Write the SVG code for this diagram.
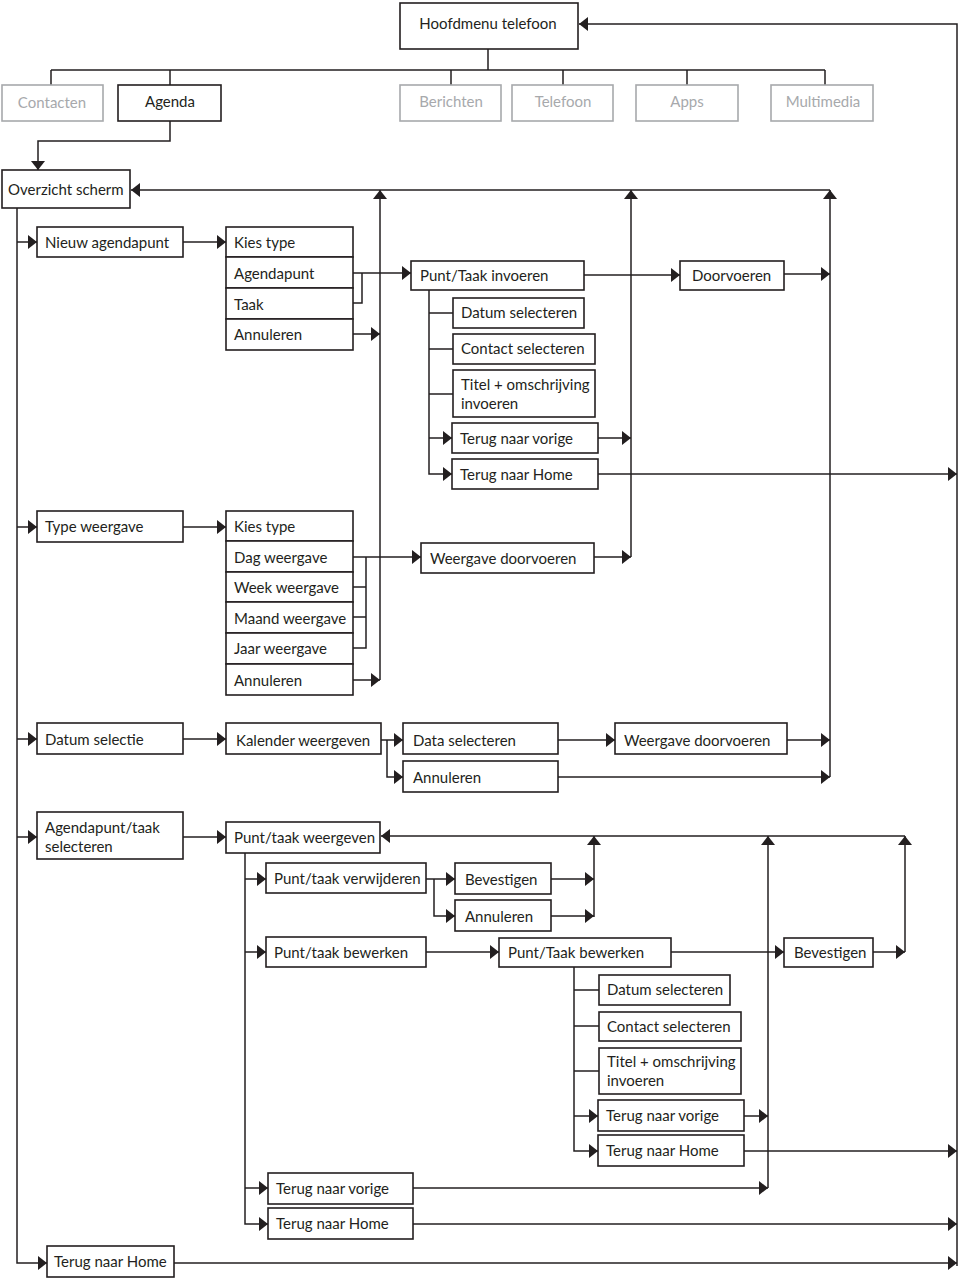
<svg xmlns="http://www.w3.org/2000/svg" width="960" height="1280" viewBox="0 0 960 1280">
<defs>
<marker id="ah" viewBox="0 0 9 14" markerWidth="9" markerHeight="14" refX="9" refY="7" orient="auto" markerUnits="userSpaceOnUse">
<path d="M0,0 L9,7 L0,14 z" fill="#231f20"/>
</marker>
<style>
rect{fill:#fff;stroke:#231f20;stroke-width:1.6}
text{font-family:Lato,"Liberation Sans",sans-serif;font-size:15px;fill:#231f20}
.g rect{stroke:#a7a9ac}
.g text{fill:#a7a9ac}
.c text, text.c{text-anchor:middle}
#connectors path{fill:none;stroke:#231f20;stroke-width:1.5}
#connectors path.a{marker-end:url(#ah)}
</style>
</defs>
<rect x="0" y="0" width="960" height="1280" style="fill:#fff;stroke:none"/>
<g id="connectors">
<path d="M488,49 V70 M51,70 H825 M51,70 V85 M170,70 V85 M451,70 V85 M563,70 V85 M687,70 V85 M825,70 V85"/>
<path class="a" d="M170,121 V141 H38 V170"/>
<path class="a" d="M957,1266 V24 H579"/>
<path class="a" d="M830,190 H131"/>
<path class="a" d="M380,680 V190"/>
<path class="a" d="M631,557 V190"/>
<path class="a" d="M830,777 V190"/>
<path class="a" d="M17,208 V1263 H47"/>
<path class="a" d="M17,242 H37"/>
<path class="a" d="M17,527 H37"/>
<path class="a" d="M17,739 H37"/>
<path class="a" d="M17,837 H37"/>
<path class="a" d="M183,242 H226"/>
<path class="a" d="M353,273 H411"/>
<path d="M353,303 H362 V273"/>
<path class="a" d="M353,334 H380"/>
<path class="a" d="M584,275 H680"/>
<path class="a" d="M784,274 H830"/>
<path class="a" d="M429,290 V474 H452"/>
<path d="M429,313 H453 M429,349 H453 M429,394 H453"/>
<path class="a" d="M429,438 H452"/>
<path class="a" d="M598,438 H631"/>
<path class="a" d="M598,474 H957"/>
<path class="a" d="M183,527 H226"/>
<path class="a" d="M353,557 H421"/>
<path d="M353,587 H366 M353,617 H366 M353,648 H366 V557"/>
<path class="a" d="M353,680 H380"/>
<path class="a" d="M594,557 H631"/>
<path class="a" d="M183,739 H226"/>
<path class="a" d="M381,740 H403"/>
<path class="a" d="M387,740 V777 H403"/>
<path class="a" d="M558,740 H615"/>
<path class="a" d="M787,740 H830"/>
<path class="a" d="M558,777 H830"/>
<path class="a" d="M183,837 H226"/>
<path class="a" d="M905,836 H381"/>
<path class="a" d="M594,917 V836"/>
<path class="a" d="M768,1188 V836"/>
<path class="a" d="M905,952 V836"/>
<path class="a" d="M245,853 V1224 H268"/>
<path class="a" d="M245,879 H266"/>
<path class="a" d="M245,952 H266"/>
<path class="a" d="M245,1188 H268"/>
<path class="a" d="M426,879 H455"/>
<path class="a" d="M434,879 V916 H455"/>
<path class="a" d="M551,879 H594"/>
<path class="a" d="M551,916 H594"/>
<path class="a" d="M426,952 H499"/>
<path class="a" d="M671,952 H784"/>
<path class="a" d="M873,952 H905"/>
<path class="a" d="M574,967 V1151 H598"/>
<path d="M574,990 H599 M574,1026 H599 M574,1071 H599"/>
<path class="a" d="M574,1116 H598"/>
<path class="a" d="M744,1116 H768"/>
<path class="a" d="M744,1151 H957"/>
<path class="a" d="M413,1188 H768"/>
<path class="a" d="M413,1224 H957"/>
<path class="a" d="M174,1263 H957"/>
</g>
<g id="hoofdmenu" class="c"><rect x="400" y="3" width="178" height="46"/><text x="488" y="29">Hoofdmenu telefoon</text></g>
<g id="contacten" class="g c"><rect x="2" y="85" width="101" height="36"/><text x="52" y="108">Contacten</text></g>
<g id="agenda" class="c"><rect x="118" y="85" width="103" height="36"/><text x="170" y="107">Agenda</text></g>
<g id="berichten" class="g c"><rect x="400" y="85" width="101" height="36"/><text x="451" y="107">Berichten</text></g>
<g id="telefoon" class="g c"><rect x="512" y="85" width="101" height="36"/><text x="563" y="107">Telefoon</text></g>
<g id="apps" class="g c"><rect x="636" y="85" width="102" height="36"/><text x="687" y="107">Apps</text></g>
<g id="multimedia" class="g c"><rect x="771" y="85" width="102" height="36"/><text x="823" y="107">Multimedia</text></g>
<g id="overzicht"><rect x="2" y="170" width="128" height="38"/><text x="8" y="195">Overzicht scherm</text></g>
<g id="nieuw"><rect x="37" y="227" width="146" height="30"/><text x="45" y="248">Nieuw agendapunt</text></g>
<g id="kies1">
<rect x="226" y="227" width="127" height="30"/><text x="234" y="248">Kies type</text>
<rect x="226" y="257" width="127" height="31"/><text x="234" y="279">Agendapunt</text>
<rect x="226" y="288" width="127" height="31"/><text x="234" y="310">Taak</text>
<rect x="226" y="319" width="127" height="31"/><text x="234" y="340">Annuleren</text>
</g>
<g id="puntinvoeren"><rect x="411" y="261" width="173" height="29"/><text x="420" y="281">Punt/Taak invoeren</text></g>
<g id="doorvoeren"><rect x="680" y="261" width="104" height="29"/><text x="692" y="281">Doorvoeren</text></g>
<g id="datum1"><rect x="453" y="298" width="131" height="30"/><text x="461" y="318">Datum selecteren</text></g>
<g id="contact1"><rect x="453" y="334" width="142" height="30"/><text x="461" y="354">Contact selecteren</text></g>
<g id="titel1"><rect x="453" y="370" width="142" height="47"/><text x="461" y="390">Titel + omschrijving</text><text x="461" y="409">invoeren</text></g>
<g id="vorige1"><rect x="452" y="423" width="146" height="30"/><text x="460" y="444">Terug naar vorige</text></g>
<g id="home1"><rect x="452" y="459" width="146" height="30"/><text x="460" y="480">Terug naar Home</text></g>
<g id="typeweergave"><rect x="37" y="511" width="146" height="31"/><text x="45" y="532">Type weergave</text></g>
<g id="kies2">
<rect x="226" y="511" width="127" height="30"/><text x="234" y="532">Kies type</text>
<rect x="226" y="541" width="127" height="31"/><text x="234" y="563">Dag weergave</text>
<rect x="226" y="572" width="127" height="30"/><text x="234" y="593">Week weergave</text>
<rect x="226" y="602" width="127" height="31"/><text x="234" y="624">Maand weergave</text>
<rect x="226" y="633" width="127" height="31"/><text x="234" y="654">Jaar weergave</text>
<rect x="226" y="664" width="127" height="31"/><text x="234" y="686">Annuleren</text>
</g>
<g id="weergavedoor1"><rect x="421" y="543" width="173" height="30"/><text x="430" y="564">Weergave doorvoeren</text></g>
<g id="datumselectie"><rect x="37" y="723" width="146" height="31"/><text x="45" y="745">Datum selectie</text></g>
<g id="kalender"><rect x="226" y="723" width="155" height="31"/><text x="236" y="746">Kalender weergeven</text></g>
<g id="dataselecteren"><rect x="403" y="723" width="155" height="31"/><text x="413" y="746">Data selecteren</text></g>
<g id="annuleren3"><rect x="403" y="761" width="155" height="31"/><text x="413" y="783">Annuleren</text></g>
<g id="weergavedoor2"><rect x="615" y="723" width="172" height="31"/><text x="624" y="746">Weergave doorvoeren</text></g>
<g id="agendapunttaak"><rect x="37" y="812" width="146" height="47"/><text x="45" y="833">Agendapunt/taak</text><text x="45" y="852">selecteren</text></g>
<g id="puntweergeven"><rect x="226" y="822" width="154" height="31"/><text x="234" y="843">Punt/taak weergeven</text></g>
<g id="verwijderen"><rect x="266" y="863" width="160" height="30"/><text x="274" y="884">Punt/taak verwijderen</text></g>
<g id="bevestigen1"><rect x="455" y="863" width="96" height="31"/><text x="465" y="885">Bevestigen</text></g>
<g id="annuleren4"><rect x="455" y="900" width="96" height="31"/><text x="465" y="922">Annuleren</text></g>
<g id="bewerken1"><rect x="266" y="937" width="160" height="30"/><text x="274" y="958">Punt/taak bewerken</text></g>
<g id="bewerken2"><rect x="499" y="938" width="172" height="29"/><text x="508" y="958">Punt/Taak bewerken</text></g>
<g id="bevestigen2"><rect x="784" y="938" width="89" height="29"/><text x="794" y="958">Bevestigen</text></g>
<g id="datum2"><rect x="599" y="975" width="131" height="30"/><text x="607" y="995">Datum selecteren</text></g>
<g id="contact2"><rect x="599" y="1012" width="142" height="29"/><text x="607" y="1032">Contact selecteren</text></g>
<g id="titel2"><rect x="599" y="1048" width="142" height="46"/><text x="607" y="1067">Titel + omschrijving</text><text x="607" y="1086">invoeren</text></g>
<g id="vorige2"><rect x="598" y="1100" width="146" height="31"/><text x="606" y="1121">Terug naar vorige</text></g>
<g id="home2"><rect x="598" y="1135" width="146" height="31"/><text x="606" y="1156">Terug naar Home</text></g>
<g id="vorige3"><rect x="268" y="1173" width="145" height="31"/><text x="276" y="1194">Terug naar vorige</text></g>
<g id="home3"><rect x="268" y="1208" width="145" height="31"/><text x="276" y="1229">Terug naar Home</text></g>
<g id="home4"><rect x="47" y="1246" width="127" height="31"/><text x="54" y="1267">Terug naar Home</text></g>
</svg>
